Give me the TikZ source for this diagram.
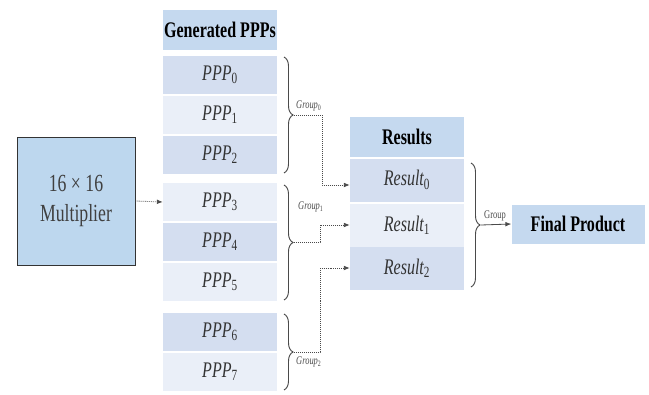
\documentclass[tikz,border=0pt]{standalone}
\usepackage{fontspec}
\setmainfont[FakeStretch=0.72]{Liberation Serif}
\usepackage{xcolor}
\usetikzlibrary{arrows.meta,decorations.pathreplacing,calc}
\definecolor{hdrblue}{HTML}{C5D9EF}
\definecolor{multblue}{HTML}{BDD7EE}
\definecolor{rowdark}{HTML}{D4DEF0}
\definecolor{rowlight}{HTML}{EAEFF8}
\definecolor{inkgray}{HTML}{4A4A4A}
\newcommand{\sub}[1]{\textsubscript{\upshape #1}}

\begin{document}
\begin{tikzpicture}[x=0.03cm,y=-0.03cm,
    hdr/.style={fill=hdrblue,minimum width=3.42cm,minimum height=1.17cm,inner sep=0pt,font=\fontsize{19}{21}\selectfont\bfseries},
    row/.style={minimum width=3.42cm,minimum height=1.16cm,inner sep=0pt,text=black!80,font=\fontsize{19}{21}\selectfont\itshape},
    res/.style={row,minimum height=1.29cm},
    grpbrace/.style={decorate,decoration={brace,amplitude=0.27cm},draw=inkgray,line width=0.8pt},
    grplbl/.style={inner sep=0pt,text=inkgray,font=\fontsize{10}{11}\selectfont\itshape},
    dotarrow/.style={densely dotted,draw=inkgray,line width=0.7pt,-{Latex[length=5pt,width=4pt]}}]
    \useasboundingbox (0,0) rectangle (649,394);

    % multiplier
    \node[draw=black!80,line width=0.8pt,fill=multblue,minimum width=3.54cm,minimum height=3.84cm,
          align=center,font=\fontsize{21}{25}\selectfont,text=black!75] (mult) at (76,201) {16 × 16\\Multiplier};

    % generated partial products
    \node[hdr] (gen) at (220,30) {Generated PPPs};
    \node[row,fill=rowdark]  (p0) at (220,75)  {PPP\sub{0}};
    \node[row,fill=rowlight] (p1) at (220,115) {PPP\sub{1}};
    \node[row,fill=rowdark]  (p2) at (220,155) {PPP\sub{2}};
    \node[row,fill=rowlight] (p3) at (220,202) {PPP\sub{3}};
    \node[row,fill=rowdark]  (p4) at (220,242) {PPP\sub{4}};
    \node[row,fill=rowlight] (p5) at (220,282) {PPP\sub{5}};
    \node[row,fill=rowdark]  (p6) at (220,332) {PPP\sub{6}};
    \node[row,fill=rowlight] (p7) at (220,372) {PPP\sub{7}};

    \draw[dotarrow] (mult.east) -- (p3.west);

    % results
    \node[hdr] (rhdr) at (407,137) {Results};
    \node[res,fill=rowdark]  (r0) at (407,180) {Result\sub{0}};
    \node[res,fill=rowlight] (r1) at (407,225) {Result\sub{1}};
    \node[res,fill=rowdark]  (r2) at (407,268) {Result\sub{2}};

    % final product
    \node[hdr,minimum width=3.99cm] (fp) at (578,224) {Final Product};

    % groups
    \draw[grpbrace] (284,57) -- (284,173);
    \coordinate (g0) at (294,115);
    \draw[grpbrace] (284,185) -- (284,300);
    \coordinate (g1) at (294,242);
    \draw[grpbrace] (284,314) -- (284,390);
    \coordinate (g2) at (294,352);
    \draw[grpbrace] (471,163) -- (471,287);
    \coordinate (gf) at (481,225);

    \node[grplbl,anchor=south west] (l0) at ($(g0)+(2,-4)$) {Group\sub{0}};
    \node[grplbl,anchor=west] (l1) at (298,207) {Group\sub{1}};
    \node[grplbl,anchor=north west] (l2) at ($(g2)+(2,5)$) {Group\sub{2}};
    \node[grplbl,font=\fontsize{10}{11}\selectfont,anchor=south west] (lf) at ($(gf)+(3,-4)$) {Group};

    \draw[dotarrow] (g0) -- ++(28,0) |- ([yshift=-0.15cm]r0.west);
    \draw[dotarrow] (g1) -- ++(26,0) |- (r1.west);
    \draw[dotarrow] (g2) -- ++(26,0) |- (r2.west);
    \draw[draw=inkgray,line width=0.7pt,-{Latex[length=5pt,width=4pt]}] (gf) -- (fp.west);
\end{tikzpicture}
\end{document}
